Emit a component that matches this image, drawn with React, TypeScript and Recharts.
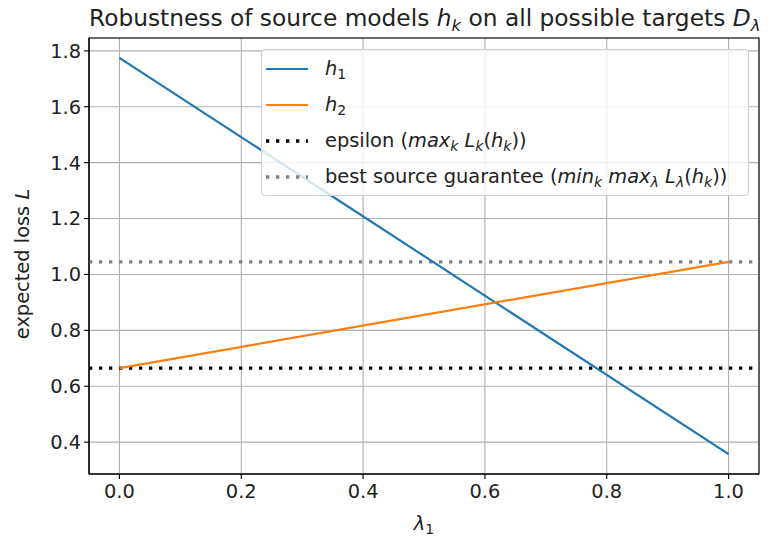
import React from "react";
import {
  LineChart,
  Line,
  XAxis,
  YAxis,
  CartesianGrid,
  ReferenceLine,
  ReferenceArea,
} from "recharts";

// lambda_1 mixing weight and expected loss of each source model
const lambdas = [0, 1];
const h1Loss = [1.775, 0.357];
const h2Loss = [0.665, 1.045];
const epsilon = 0.665;
const bestGuarantee = 1.045;

const xTicks = [0, 0.2, 0.4, 0.6, 0.8, 1.0];
const yTicks = [0.4, 0.6, 0.8, 1.0, 1.2, 1.4, 1.6, 1.8];
const xDomain: [number, number] = [-0.05, 1.05];
const yDomain: [number, number] = [0.286, 1.846];

const data = lambdas.map((l, i) => ({ lambda: l, h1: h1Loss[i], h2: h2Loss[i] }));

const FONT = "'DejaVu Sans', sans-serif";
const BLUE = "#1f77b4";
const ORANGE = "#ff7f0e";
const GREY = "#808080";
const FS = 19.4;

const fmt = (v: number) => v.toFixed(1);

// subscript that does not disturb the line box
function Sub({ children, size = 14 }: { children: React.ReactNode; size?: number }) {
  return (
    <span style={{ fontSize: size, position: "relative", top: "0.3em", lineHeight: 0 }}>
      {children}
    </span>
  );
}

function Sample({ color, dotted }: { color: string; dotted?: boolean }) {
  return (
    <svg width={42} height={12} style={{ display: "block", flex: "none" }}>
      <line
        x1={0}
        x2={42}
        y1={6}
        y2={6}
        stroke={color}
        strokeWidth={dotted ? 3.3 : 2.2}
        strokeDasharray={dotted ? "3.3 6.7" : undefined}
      />
    </svg>
  );
}

function LegendBox() {
  const row: React.CSSProperties = {
    display: "flex",
    alignItems: "center",
    height: 36,
  };
  const label: React.CSSProperties = { marginLeft: 17, whiteSpace: "nowrap", lineHeight: "24px" };
  return (
    <div
      style={{
        position: "absolute",
        left: 261,
        top: 49,
        width: 488,
        height: 147,
        boxSizing: "border-box",
        border: "1px solid #d0d0d0",
        borderRadius: 4,
        background: "rgba(255,255,255,0.8)",
        padding: "1px 0 0 4px",
        fontFamily: FONT,
        fontSize: FS,
        color: "#222",
      }}
    >
      <div style={row}>
        <Sample color={BLUE} />
        <span style={label}>
          <i>h</i>
          <Sub>1</Sub>
        </span>
      </div>
      <div style={row}>
        <Sample color={ORANGE} />
        <span style={label}>
          <i>h</i>
          <Sub>2</Sub>
        </span>
      </div>
      <div style={row}>
        <Sample color="#000" dotted />
        <span style={label}>
          epsilon (<i>max</i>
          <Sub><i>k</i></Sub> <i>L</i>
          <Sub><i>k</i></Sub>(<i>h</i>
          <Sub><i>k</i></Sub>))
        </span>
      </div>
      <div style={row}>
        <Sample color={GREY} dotted />
        <span style={label}>
          best source guarantee (<i>min</i>
          <Sub><i>k</i></Sub> <i>max</i>
          <Sub><i>λ</i></Sub> <i>L</i>
          <Sub><i>λ</i></Sub>(<i>h</i>
          <Sub><i>k</i></Sub>))
        </span>
      </div>
    </div>
  );
}

export default function App() {
  const tick = { fill: "#222", fontSize: FS, fontFamily: FONT };
  return (
    <div
      style={{
        position: "fixed",
        left: 0,
        top: 0,
        width: 769,
        height: 540,
        background: "#fff",
        fontFamily: FONT,
      }}
    >
      <div
        style={{
          position: "absolute",
          left: 89,
          width: 670,
          top: 4,
          lineHeight: "27px",
          textAlign: "center",
          fontSize: 23.3,
          color: "#222",
          whiteSpace: "nowrap",
        }}
      >
        Robustness of source models <i>h</i>
        <Sub size={16.5}><i>k</i></Sub> on all possible targets <i>D</i>
        <Sub size={16.5}><i>λ</i></Sub>
      </div>
      <LineChart
        width={769}
        height={540}
        data={data}
        margin={{ top: 38, right: 10, bottom: 0, left: 0 }}
      >
        <CartesianGrid stroke="#b0b0b0" strokeWidth={1.1} />
        <XAxis
          dataKey="lambda"
          type="number"
          domain={xDomain}
          ticks={xTicks}
          tickFormatter={fmt}
          allowDataOverflow
          height={66}
          tick={tick}
          tickSize={5}
          tickMargin={5}
          axisLine={{ stroke: "#000", strokeWidth: 1.1 }}
          tickLine={{ stroke: "#000", strokeWidth: 1.1 }}
        />
        <YAxis
          type="number"
          domain={yDomain}
          ticks={yTicks}
          tickFormatter={fmt}
          allowDataOverflow
          width={89}
          tick={tick}
          tickSize={5}
          tickMargin={3}
          axisLine={{ stroke: "#000", strokeWidth: 1.1 }}
          tickLine={{ stroke: "#000", strokeWidth: 1.1 }}
        />
        <ReferenceLine
          y={epsilon}
          stroke="#000"
          strokeWidth={3.3}
          strokeDasharray="3.3 6.7"
        />
        <ReferenceLine
          y={bestGuarantee}
          stroke={GREY}
          strokeWidth={3.3}
          strokeDasharray="3.3 6.7"
        />
        <Line
          dataKey="h1"
          stroke={BLUE}
          strokeWidth={2.2}
          dot={false}
          isAnimationActive={false}
        />
        <Line
          dataKey="h2"
          stroke={ORANGE}
          strokeWidth={2.2}
          dot={false}
          isAnimationActive={false}
        />
        <ReferenceArea
          x1={xDomain[0]}
          x2={xDomain[1]}
          y1={yDomain[0]}
          y2={yDomain[1]}
          fill="none"
          fillOpacity={0}
          stroke="#000"
          strokeWidth={1.1}
          ifOverflow="visible"
        />
      </LineChart>
      <div
        style={{
          position: "absolute",
          left: 424,
          top: 512,
          lineHeight: "24px",
          transform: "translateX(-50%)",
          fontSize: FS,
          color: "#222",
        }}
      >
        <i>λ</i>
        <Sub>1</Sub>
      </div>
      <div
        style={{
          position: "absolute",
          left: 23,
          top: 264,
          lineHeight: "24px",
          transform: "translate(-50%, -50%) rotate(-90deg)",
          fontSize: FS,
          color: "#222",
          whiteSpace: "nowrap",
        }}
      >
        expected loss <i>L</i>
      </div>
      <LegendBox />
    </div>
  );
}
